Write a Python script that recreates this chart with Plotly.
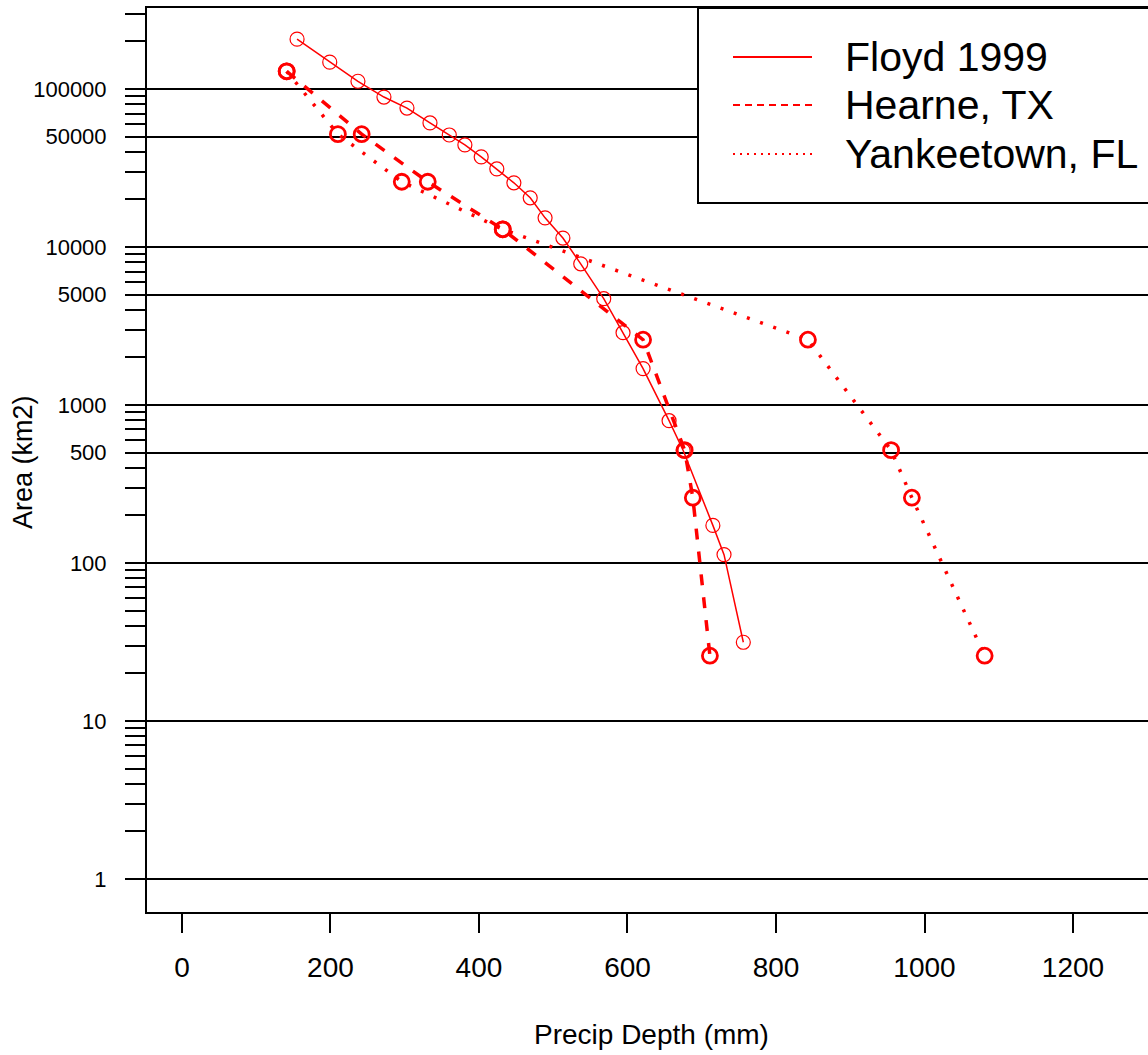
import plotly.graph_objects as go

# ---------------- data ----------------
series_names = ["Floyd 1999", "Hearne, TX", "Yankeetown, FL"]

floyd_depth = [155, 199, 237, 272, 303, 334, 360, 381, 403, 424, 447, 469, 489,
               513, 537, 568, 594, 621, 656, 675, 715, 730, 756]
floyd_area = [207000, 148000, 112000, 89000, 75800, 61000, 51200, 44300, 37200,
              31200, 25500, 20500, 15300, 11400, 7830, 4710, 2870, 1700, 796,
              515, 173, 113, 31.5]

hearne_depth = [141, 242, 331, 432, 621, 677, 688, 711]
hearne_area = [129500, 51800, 25900, 12950, 2590, 518, 259, 25.9]

yankee_depth = [141, 210, 296, 432, 843, 955, 983, 1081]
yankee_area = [129500, 51800, 25900, 12950, 2590, 518, 259, 25.9]

x_tickvals = [0, 200, 400, 600, 800, 1000, 1200]
y_tickvals = [1, 10, 100, 500, 1000, 5000, 10000, 50000, 100000]
y_ticktext = ["1", "10", "100", "500", "1000", "5000", "10000", "50000", "100000"]
y_minor = [m * 10 ** k for k in range(0, 6) for m in range(2, 10) if m * 10 ** k < 330000]

x_title = "Precip Depth (mm)"
y_title = "Area (km2)"

# ---------------- figure ----------------
W, H = 1148, 1055
L, R, T, B = 147, 0, 8, 143
plot_w = W - L - R
plot_h = H - T - B

RED = "#ff0000"
FONT = "Arial, 'Liberation Sans', sans-serif"

fig = go.Figure()
fig.add_trace(go.Scatter(
    x=floyd_depth, y=floyd_area, mode="lines+markers", name=series_names[0],
    line=dict(color=RED, width=1.5),
    marker=dict(symbol="circle-open", size=14, color=RED, line=dict(width=1.2, color=RED)),
    showlegend=False))
fig.add_trace(go.Scatter(
    x=hearne_depth, y=hearne_area, mode="lines+markers", name=series_names[1],
    line=dict(color=RED, width=3.5, dash="11px,12px"),
    marker=dict(symbol="circle-open", size=15, color=RED, line=dict(width=2.8, color=RED)),
    showlegend=False))
fig.add_trace(go.Scatter(
    x=yankee_depth, y=yankee_area, mode="lines+markers", name=series_names[2],
    line=dict(color=RED, width=3.5, dash="3px,11px"),
    marker=dict(symbol="circle-open", size=15, color=RED, line=dict(width=2.8, color=RED)),
    showlegend=False))


def px_x(p):
    return (p - L) / plot_w


def px_y(p):
    return (H - B - p) / plot_h


shapes = []
annotations = []

# legend box
shapes.append(dict(type="rect", xref="paper", yref="paper",
                   x0=px_x(698), x1=1.02, y0=px_y(203), y1=px_y(8),
                   fillcolor="white", line=dict(color="black", width=2), layer="above"))
leg_dash = ["solid", "7px,5px", "2px,5px"]
leg_y = [57, 105, 154]
for name, d, yy in zip(series_names, leg_dash, leg_y):
    shapes.append(dict(type="line", xref="paper", yref="paper",
                       x0=px_x(733), x1=px_x(812), y0=px_y(yy), y1=px_y(yy),
                       line=dict(color=RED, width=2, dash=d), layer="above"))
    annotations.append(dict(xref="paper", yref="paper", x=px_x(843), y=px_y(yy),
                            text=name, showarrow=False, xanchor="left", yanchor="middle",
                            font=dict(family=FONT, size=41, color="black")))

# axis titles
annotations.append(dict(xref="paper", yref="paper", x=px_x(651), y=px_y(1034),
                        text=x_title, showarrow=False, xanchor="center", yanchor="middle",
                        font=dict(family=FONT, size=28, color="black")))
annotations.append(dict(xref="paper", yref="paper", x=px_x(23), y=px_y(462),
                        text=y_title, showarrow=False, xanchor="center", yanchor="middle",
                        textangle=-90, font=dict(family=FONT, size=27, color="black")))

fig.update_layout(
    width=W, height=H,
    margin=dict(l=L, r=R, t=T, b=B, pad=0),
    paper_bgcolor="white", plot_bgcolor="white",
    showlegend=False,
    shapes=shapes, annotations=annotations,
    font=dict(family=FONT, color="black"),
    xaxis=dict(
        range=[-47.1, 1301], tickvals=x_tickvals,
        ticks="outside", ticklen=19, tickwidth=2, tickcolor="black",
        showline=True, linecolor="black", linewidth=2, mirror=True,
        showgrid=False, zeroline=False,
        tickfont=dict(family=FONT, size=28, color="black"),
        ticklabelstandoff=10,
    ),
    yaxis=dict(
        type="log", range=[-0.209, 5.513],
        tickvals=y_tickvals, ticktext=y_ticktext,
        ticks="outside", ticklen=20, tickwidth=2, tickcolor="black",
        showline=True, linecolor="black", linewidth=2, mirror=False,
        showgrid=True, gridcolor="black", gridwidth=2,
        zeroline=False,
        tickfont=dict(family=FONT, size=22, color="black"),
        ticklabelstandoff=14,
        minor=dict(tickmode="array", tickvals=y_minor, ticks="outside",
                   ticklen=20, tickwidth=2, tickcolor="black", showgrid=False),
    ),
)

fig.write_html("out.html")
